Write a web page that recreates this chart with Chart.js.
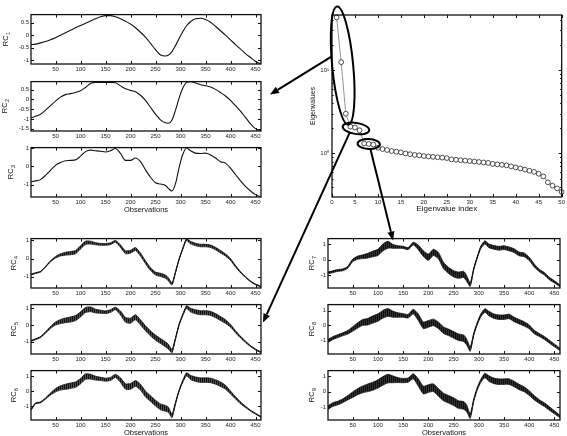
<!DOCTYPE html>
<html>
<head>
<meta charset="utf-8">
<script src="https://cdn.jsdelivr.net/npm/chart.js@4.4.0/dist/chart.umd.min.js"></script>
<style>
  html, body { margin: 0; padding: 0; background: #fff; }
  body { width: 567px; height: 436px; position: relative; overflow: hidden; }
  canvas.panel { position: absolute; }
  #overlay { position: absolute; left: 0; top: 0; pointer-events: none; }
</style>
</head>
<body>
<canvas id="overlay" width="567" height="436"></canvas>
<script>
const OBS = [1, 10, 20, 30, 40, 50, 60, 70, 80, 90,
  100, 110, 120, 130, 140, 150, 160, 170, 180, 190,
  200, 210, 220, 230, 240, 250, 260,
  270, 276, 283, 290, 297, 304, 312, 320,
  330, 340, 350, 360, 370, 380, 390, 400, 410, 420,
  430, 440, 450, 461]
const OBS_TICKS = [50, 100, 150, 200, 250, 300, 350, 400, 450]

const RC1 = [-0.38, -0.36, -0.31, -0.25, -0.18, -0.10, 0.00, 0.10, 0.20, 0.30,
  0.39, 0.48, 0.57, 0.66, 0.74, 0.79, 0.79, 0.74, 0.66, 0.56,
  0.45, 0.30, 0.12, -0.08, -0.33, -0.58, -0.80,
  -0.84, -0.80, -0.66, -0.42, -0.14, 0.12, 0.38, 0.54,
  0.66, 0.68, 0.63, 0.52, 0.36, 0.18, 0.00, -0.19, -0.38, -0.56,
  -0.74, -0.90, -1.06, -1.16]
const RC2 = [-0.95, -0.86, -0.76, -0.55, -0.32, -0.08, 0.12, 0.25, 0.30, 0.36,
  0.45, 0.62, 0.82, 0.88, 0.88, 0.88, 0.88, 0.86, 0.70, 0.55,
  0.47, 0.40, 0.22, -0.05, -0.40, -0.75, -1.05,
  -1.20, -1.22, -1.05, -0.55, 0.05, 0.55, 0.88, 0.92,
  0.85, 0.76, 0.71, 0.64, 0.52, 0.36, 0.18, -0.05, -0.32, -0.60,
  -0.92, -1.25, -1.50, -1.60]
const RC3 = [-0.85, -0.80, -0.73, -0.50, -0.22, 0.05, 0.20, 0.30, 0.32, 0.35,
  0.55, 0.80, 0.88, 0.85, 0.82, 0.78, 0.85, 0.97, 0.70, 0.32,
  0.32, 0.45, 0.25, -0.20, -0.60, -0.90, -0.97,
  -1.05, -1.22, -1.35, -0.95, -0.10, 0.60, 1.00, 0.85,
  0.72, 0.70, 0.72, 0.62, 0.45, 0.25, 0.17, -0.10, -0.45, -0.80,
  -1.10, -1.35, -1.55, -1.67]

// noisy components: centre line and half-width of the oscillation band
const RC4_MID = [-0.88, -0.80, -0.72, -0.45, -0.15, 0.07, 0.20, 0.27, 0.30, 0.35,
  0.62, 0.87, 0.88, 0.82, 0.78, 0.78, 0.82, 0.95, 0.68, 0.35,
  0.38, 0.53, 0.22, -0.20, -0.58, -0.82, -0.90,
  -1.00, -1.15, -1.40, -0.75, -0.05, 0.50, 1.05, 0.88,
  0.78, 0.72, 0.72, 0.68, 0.55, 0.38, 0.20, -0.05, -0.42, -0.75,
  -1.02, -1.25, -1.42, -1.55]
const RC4_BAND = [0.02, 0.02, 0.02, 0.02, 0.03, 0.04, 0.06, 0.08, 0.09, 0.09,
  0.09, 0.09, 0.08, 0.06, 0.05, 0.05, 0.05, 0.05, 0.07, 0.08,
  0.08, 0.08, 0.08, 0.08, 0.08, 0.08, 0.09,
  0.09, 0.08, 0.06, 0.03, 0.03, 0.03, 0.05, 0.07,
  0.07, 0.07, 0.07, 0.07, 0.07, 0.07, 0.06, 0.05, 0.04, 0.03,
  0.02, 0.02, 0.02, 0.02]

const RC5_MID = [-0.95, -0.85, -0.72, -0.45, -0.15, 0.08, 0.20, 0.27, 0.32, 0.40,
  0.62, 0.88, 0.92, 0.82, 0.78, 0.75, 0.82, 0.97, 0.70, 0.30,
  0.25, 0.45, 0.15, -0.20, -0.50, -0.75, -0.95,
  -1.15, -1.30, -1.55, -0.80, 0.00, 0.55, 1.05, 0.88,
  0.78, 0.72, 0.72, 0.68, 0.55, 0.38, 0.20, -0.05, -0.40, -0.72,
  -1.00, -1.25, -1.45, -1.62]
const RC5_BAND = [0.03, 0.03, 0.03, 0.04, 0.06, 0.09, 0.12, 0.14, 0.15, 0.15,
  0.15, 0.15, 0.14, 0.11, 0.09, 0.08, 0.08, 0.08, 0.12, 0.14,
  0.15, 0.15, 0.15, 0.15, 0.15, 0.15, 0.15,
  0.15, 0.14, 0.10, 0.05, 0.04, 0.05, 0.08, 0.11,
  0.12, 0.12, 0.12, 0.12, 0.12, 0.12, 0.11, 0.08, 0.06, 0.05,
  0.04, 0.03, 0.03, 0.03]

const RC6_MID = [-1.25, -0.82, -0.75, -0.50, -0.20, 0.05, 0.20, 0.28, 0.35, 0.42,
  0.65, 0.95, 0.95, 0.85, 0.80, 0.75, 0.80, 1.00, 0.72, 0.30,
  0.30, 0.50, 0.25, -0.20, -0.50, -0.80, -1.05,
  -1.15, -1.25, -1.65, -0.80, 0.00, 0.60, 1.10, 0.90,
  0.78, 0.72, 0.72, 0.70, 0.60, 0.45, 0.25, -0.10, -0.45, -0.78,
  -1.05, -1.30, -1.50, -1.72]
const RC6_BAND = [0.03, 0.03, 0.03, 0.04, 0.07, 0.11, 0.14, 0.17, 0.18, 0.18,
  0.18, 0.18, 0.16, 0.13, 0.11, 0.10, 0.10, 0.10, 0.15, 0.18,
  0.19, 0.19, 0.19, 0.19, 0.19, 0.19, 0.19,
  0.19, 0.17, 0.12, 0.06, 0.05, 0.06, 0.10, 0.14,
  0.15, 0.15, 0.15, 0.15, 0.15, 0.15, 0.13, 0.10, 0.08, 0.06,
  0.04, 0.03, 0.03, 0.03]

const RC7_MID = [-0.85, -0.78, -0.70, -0.66, -0.50, -0.05, 0.12, 0.18, 0.25, 0.36,
  0.46, 0.78, 0.95, 0.84, 0.80, 0.78, 0.70, 1.02, 0.78, 0.38,
  0.15, 0.46, 0.25, -0.38, -0.70, -0.91, -1.00,
  -0.95, -1.22, -1.60, -0.60, 0.15, 0.78, 1.10, 0.88,
  0.78, 0.72, 0.76, 0.68, 0.57, 0.36, 0.30, 0.04, -0.38, -0.70,
  -0.91, -1.22, -1.43, -1.68]
const RC7_BAND = [0.06, 0.06, 0.06, 0.06, 0.06, 0.08, 0.10, 0.12, 0.15, 0.18,
  0.20, 0.22, 0.22, 0.12, 0.08, 0.07, 0.07, 0.08, 0.15, 0.18,
  0.20, 0.20, 0.20, 0.20, 0.20, 0.20, 0.20,
  0.20, 0.18, 0.12, 0.06, 0.06, 0.08, 0.10, 0.12,
  0.12, 0.12, 0.12, 0.12, 0.12, 0.12, 0.12, 0.10, 0.10, 0.08,
  0.08, 0.08, 0.07, 0.06]

const RC8_MID = [-1.05, -0.87, -0.73, -0.60, -0.47, -0.24, 0.00, 0.20, 0.25, 0.40,
  0.53, 0.75, 0.87, 0.75, 0.70, 0.67, 0.62, 0.93, 0.55, 0.00,
  0.10, 0.20, 0.00, -0.33, -0.47, -0.64, -0.80,
  -0.87, -1.13, -1.60, -0.60, 0.13, 0.67, 1.00, 0.80,
  0.62, 0.55, 0.55, 0.60, 0.40, 0.25, 0.10, -0.10, -0.45, -0.65,
  -0.85, -1.10, -1.35, -1.62]
const RC8_BAND = [0.10, 0.10, 0.10, 0.10, 0.12, 0.15, 0.18, 0.20, 0.22, 0.24,
  0.25, 0.26, 0.26, 0.20, 0.15, 0.12, 0.12, 0.15, 0.22, 0.22,
  0.22, 0.22, 0.22, 0.22, 0.22, 0.22, 0.22,
  0.22, 0.20, 0.15, 0.08, 0.08, 0.10, 0.12, 0.15,
  0.15, 0.15, 0.15, 0.15, 0.15, 0.15, 0.15, 0.13, 0.12, 0.10,
  0.10, 0.10, 0.09, 0.08]

const RC9_MID = [-1.05, -0.85, -0.75, -0.60, -0.40, -0.20, 0.00, 0.15, 0.25, 0.35,
  0.50, 0.70, 0.85, 0.80, 0.75, 0.72, 0.75, 1.00, 0.60, 0.10,
  0.20, 0.25, -0.05, -0.35, -0.50, -0.65, -0.85,
  -0.90, -1.10, -1.60, -0.55, 0.20, 0.70, 1.05, 0.85,
  0.70, 0.65, 0.65, 0.65, 0.50, 0.30, 0.15, -0.10, -0.40, -0.65,
  -0.85, -1.10, -1.35, -1.62]
const RC9_BAND = [0.12, 0.12, 0.12, 0.12, 0.14, 0.18, 0.20, 0.22, 0.25, 0.26,
  0.27, 0.28, 0.28, 0.22, 0.16, 0.14, 0.14, 0.16, 0.24, 0.25,
  0.25, 0.25, 0.25, 0.25, 0.25, 0.25, 0.25,
  0.25, 0.22, 0.15, 0.08, 0.08, 0.10, 0.14, 0.18,
  0.18, 0.18, 0.18, 0.18, 0.18, 0.18, 0.16, 0.15, 0.14, 0.12,
  0.12, 0.12, 0.10, 0.08]

const RC_TICKS = [-1, 0, 1]
const RC1_TICKS = [-1, -0.5, 0, 0.5]
const RC2_TICKS = [-1.5, -1, -0.5, 0, 0.5]

// eigenvalue spectrum, index 1..50
const EIGENVALUES = [43, 12.5, 3.0, 2.1, 2.05, 1.9, 1.32, 1.3, 1.28, 1.17,
  1.13, 1.1, 1.07, 1.05, 1.03, 1.0, 0.98, 0.96, 0.95, 0.93,
  0.92, 0.91, 0.9, 0.89, 0.88, 0.85, 0.84, 0.83, 0.82, 0.81,
  0.8, 0.79, 0.78, 0.77, 0.75, 0.74, 0.73, 0.72, 0.7, 0.68,
  0.66, 0.64, 0.62, 0.6, 0.57, 0.53, 0.45, 0.41, 0.38, 0.345]
const EIG_X_TICKS = [0, 5, 10, 15, 20, 25, 30, 35, 40, 45, 50]
const EIG_Y_TICKS = [1, 10]
const EIG_Y_LABELS = ["10\u2070", "10\u00b9"]
const EIG_MINOR = [0.4, 0.5, 0.6, 0.7, 0.8, 0.9, 2, 3, 4, 5, 6, 7, 8, 9, 20, 30, 40]

const FONT = "'Liberation Sans', Arial, Helvetica, sans-serif"
const INK = "#111"
const TICK_FONT = { family: FONT, size: 6 }
const charts = {}

// MATLAB-like box: frame, inward ticks on all four sides, axis labels
const matBox = {
  id: "matBox",
  afterDraw(chart, args, o) {
    const ctx = chart.ctx
    const a = chart.chartArea
    const xs = chart.scales.x
    const ys = chart.scales.y
    ctx.save()
    ctx.strokeStyle = INK
    ctx.lineWidth = 1
    ctx.beginPath()
    xs.ticks.forEach((t) => {
      const p = Math.round(xs.getPixelForValue(t.value)) + 0.5
      ctx.moveTo(p, a.bottom)
      ctx.lineTo(p, a.bottom - 3)
      ctx.moveTo(p, a.top)
      ctx.lineTo(p, a.top + 3)
    })
    ys.ticks.forEach((t) => {
      const p = Math.round(ys.getPixelForValue(t.value)) + 0.5
      ctx.moveTo(a.left, p)
      ctx.lineTo(a.left + 3, p)
      ctx.moveTo(a.right, p)
      ctx.lineTo(a.right - 3, p)
    })
    const minor = o.minorY || []
    minor.forEach((v) => {
      const p = Math.round(ys.getPixelForValue(v)) + 0.5
      ctx.moveTo(a.left, p)
      ctx.lineTo(a.left + 1.6, p)
      ctx.moveTo(a.right, p)
      ctx.lineTo(a.right - 1.6, p)
    })
    ctx.stroke()
    ctx.lineWidth = 1.3
    ctx.strokeRect(a.left, a.top, a.right - a.left, a.bottom - a.top)

    ctx.fillStyle = INK
    if (o.yLabel) {
      ctx.save()
      ctx.translate(a.left + o.labelDx, (a.top + a.bottom) / 2)
      ctx.rotate(-Math.PI / 2)
      const big = `${o.labelSize || 7.5}px ${FONT}`
      const small = `5.5px ${FONT}`
      ctx.font = big
      const w1 = ctx.measureText(o.yLabel).width
      let w2 = 0
      if (o.sub) {
        ctx.font = small
        w2 = ctx.measureText(o.sub).width
      }
      const x0 = -(w1 + w2) / 2
      ctx.textAlign = "left"
      ctx.textBaseline = "alphabetic"
      ctx.font = big
      ctx.fillText(o.yLabel, x0, 2.7)
      if (o.sub) {
        ctx.font = small
        ctx.fillText(o.sub, x0 + w1 + 0.3, 4.8)
      }
      ctx.restore()
    }
    if (o.xTitle) {
      ctx.font = `${o.xTitleSize || 7.5}px ${FONT}`
      ctx.textAlign = "center"
      ctx.textBaseline = "middle"
      ctx.fillText(o.xTitle, (a.left + a.right) / 2, a.bottom + o.xTitleDy)
    }
    ctx.restore()
  },
}
Chart.register(matBox)

function hatch(dark, light) {
  const p = document.createElement("canvas")
  p.width = 2
  p.height = 1
  const g = p.getContext("2d")
  g.fillStyle = dark
  g.fillRect(0, 0, 1, 1)
  g.fillStyle = light
  g.fillRect(1, 0, 1, 1)
  return g.createPattern(p, "repeat")
}

function makeCanvas(left, top, w, h) {
  const cv = document.createElement("canvas")
  cv.className = "panel"
  cv.width = w
  cv.height = h
  cv.style.left = left + "px"
  cv.style.top = top + "px"
  cv.style.width = w + "px"
  cv.style.height = h + "px"
  document.body.insertBefore(cv, document.getElementById("overlay"))
  return cv
}

function points(values) {
  return OBS.map((x, i) => ({ x, y: values[i] }))
}

function smoothSet(values) {
  return [{
    data: points(values),
    borderColor: INK,
    borderWidth: 1.1,
    pointRadius: 0,
    cubicInterpolationMode: "monotone",
  }]
}

function bandSet(mid, band, fillStyle) {
  const upper = OBS.map((x, i) => ({ x, y: mid[i] + band[i] }))
  const lower = OBS.map((x, i) => ({ x, y: mid[i] - band[i] }))
  return [
    { data: upper, borderColor: INK, borderWidth: 0.8, pointRadius: 0, tension: 0.2, fill: "+1", backgroundColor: fillStyle },
    { data: lower, borderColor: INK, borderWidth: 0.8, pointRadius: 0, tension: 0.2, fill: false },
    { data: points(mid), borderColor: INK, borderWidth: 1, pointRadius: 0, tension: 0.2, fill: false },
  ]
}

function rcChart(name, box, p) {
  const padL = 31
  const padT = 5
  const padR = 6
  const xH = p.xTitle ? 22 : 14
  const w = box.r - box.l + padL + padR
  const h = box.b - box.t + padT + xH
  const cv = makeCanvas(box.l - padL, box.t - padT, w, h)
  const chart = new Chart(cv, {
    type: "line",
    data: { datasets: p.datasets },
    options: {
      responsive: false,
      animation: false,
      devicePixelRatio: 1,
      layout: { padding: { left: 0, top: padT, right: padR, bottom: 0 } },
      plugins: {
        legend: { display: false },
        tooltip: { enabled: false },
        matBox: { yLabel: "RC", sub: p.sub, labelDx: p.labelDx, xTitle: p.xTitle, xTitleDy: 12.5 },
      },
      scales: {
        x: {
          type: "linear",
          min: 1,
          max: 461,
          afterFit: (s) => { s.height = xH },
          afterBuildTicks: (s) => { s.ticks = OBS_TICKS.map((v) => ({ value: v })) },
          grid: { display: false, drawTicks: false },
          border: { display: false },
          ticks: { padding: 2, font: TICK_FONT, color: "#222", maxRotation: 0, autoSkip: false, callback: (v) => String(v) },
        },
        y: {
          type: "linear",
          min: p.yMin,
          max: p.yMax,
          afterFit: (s) => { s.width = padL },
          afterBuildTicks: (s) => { s.ticks = p.ticks.map((v) => ({ value: v })) },
          grid: { display: false, drawTicks: false },
          border: { display: false },
          ticks: { padding: 2, font: TICK_FONT, color: "#222", autoSkip: false, callback: (v) => String(v) },
        },
      },
    },
  })
  charts[name] = { chart, left: box.l - padL, top: box.t - padT }
}

function eigenChart(box) {
  const padL = 30
  const padT = 10
  const padR = 4
  const xH = 22
  const w = box.r - box.l + padL + padR
  const h = box.b - box.t + padT + xH
  const cv = makeCanvas(box.l - padL, box.t - padT, w, h)
  const chart = new Chart(cv, {
    type: "line",
    data: {
      datasets: [{
        data: EIGENVALUES.map((v, i) => ({ x: i + 1, y: v })),
        borderColor: "#666",
        borderWidth: 0.7,
        pointRadius: 2.4,
        pointBorderWidth: 0.8,
        pointBorderColor: "#222",
        pointBackgroundColor: "#fff",
        clip: false,
      }],
    },
    options: {
      responsive: false,
      animation: false,
      devicePixelRatio: 1,
      layout: { padding: { left: 0, top: padT, right: padR, bottom: 0 } },
      plugins: {
        legend: { display: false },
        tooltip: { enabled: false },
        matBox: { yLabel: "Eigenvalues", labelSize: 7, labelDx: -20, xTitle: "Eigenvalue index", xTitleSize: 8, xTitleDy: 12, minorY: EIG_MINOR },
      },
      scales: {
        x: {
          type: "linear",
          min: 0,
          max: 50,
          afterFit: (s) => { s.height = xH },
          afterBuildTicks: (s) => { s.ticks = EIG_X_TICKS.map((v) => ({ value: v })) },
          grid: { display: false, drawTicks: false },
          border: { display: false },
          ticks: { padding: 2, font: TICK_FONT, color: "#222", maxRotation: 0, autoSkip: false, callback: (v) => String(v) },
        },
        y: {
          type: "logarithmic",
          min: 0.34,
          max: 46,
          afterFit: (s) => { s.width = padL },
          afterBuildTicks: (s) => { s.ticks = EIG_Y_TICKS.map((v) => ({ value: v })) },
          grid: { display: false, drawTicks: false },
          border: { display: false },
          ticks: { padding: 3, font: TICK_FONT, color: "#222", autoSkip: false, callback: (v, i) => EIG_Y_LABELS[i] },
        },
      },
    },
  })
  charts.eig = { chart, left: box.l - padL, top: box.t - padT }
}

// panel layout (page pixels of each plot box)
const LEFT = { l: 31, r: 261 }
const RIGHT = { l: 328, r: 560 }
const ROWS = [
  { t: 14, b: 64 }, { t: 81, b: 131 }, { t: 147, b: 197 },
  { t: 238, b: 288 }, { t: 304, b: 354 }, { t: 370, b: 420 },
]
const box = (col, row) => ({ l: col.l, r: col.r, t: ROWS[row].t, b: ROWS[row].b })

const HATCH = hatch("#111", "#4d4d4d")
const HATCH_DARK = hatch("#0d0d0d", "#333")

rcChart("rc1", box(LEFT, 0), { sub: "1", labelDx: -26, yMin: -1.16, yMax: 0.83, ticks: RC1_TICKS, datasets: smoothSet(RC1) })
rcChart("rc2", box(LEFT, 1), { sub: "2", labelDx: -26.5, yMin: -1.62, yMax: 0.92, ticks: RC2_TICKS, datasets: smoothSet(RC2) })
rcChart("rc3", box(LEFT, 2), { sub: "3", labelDx: -21, yMin: -1.68, yMax: 1.02, ticks: RC_TICKS, datasets: smoothSet(RC3), xTitle: "Observations" })
rcChart("rc4", box(LEFT, 3), { sub: "4", labelDx: -17.5, yMin: -1.62, yMax: 1.1, ticks: RC_TICKS, datasets: bandSet(RC4_MID, RC4_BAND, HATCH) })
rcChart("rc5", box(LEFT, 4), { sub: "5", labelDx: -17.5, yMin: -1.72, yMax: 1.2, ticks: RC_TICKS, datasets: bandSet(RC5_MID, RC5_BAND, HATCH) })
rcChart("rc6", box(LEFT, 5), { sub: "6", labelDx: -17.5, yMin: -1.92, yMax: 1.35, ticks: RC_TICKS, datasets: bandSet(RC6_MID, RC6_BAND, HATCH), xTitle: "Observations" })
rcChart("rc7", box(RIGHT, 3), { sub: "7", labelDx: -16.5, yMin: -1.82, yMax: 1.34, ticks: RC_TICKS, datasets: bandSet(RC7_MID, RC7_BAND, HATCH_DARK) })
rcChart("rc8", box(RIGHT, 4), { sub: "8", labelDx: -16.5, yMin: -1.93, yMax: 1.4, ticks: RC_TICKS, datasets: bandSet(RC8_MID, RC8_BAND, HATCH_DARK) })
rcChart("rc9", box(RIGHT, 5), { sub: "9", labelDx: -16.5, yMin: -1.85, yMax: 1.37, ticks: RC_TICKS, datasets: bandSet(RC9_MID, RC9_BAND, HATCH_DARK), xTitle: "Observations" })
eigenChart({ l: 332, r: 563, t: 15, b: 197 })

// ---- overlay: rings round groups of eigenvalues and arrows to their components ----
function pagePt(name, x, y) {
  const c = charts[name]
  return { x: c.left + c.chart.scales.x.getPixelForValue(x), y: c.top + c.chart.scales.y.getPixelForValue(y) }
}

function areaOf(name) {
  const c = charts[name]
  const a = c.chart.chartArea
  return { l: c.left + a.left, r: c.left + a.right, t: c.top + a.top, b: c.top + a.bottom }
}

function ring(from, to, extend, half, dx, tilt) {
  const p = pagePt("eig", from + 1, EIGENVALUES[from])
  const q = pagePt("eig", to + 1, EIGENVALUES[to])
  const ang = Math.atan2(q.y - p.y, q.x - p.x)
  return {
    cx: (p.x + q.x) / 2 + dx,
    cy: (p.y + q.y) / 2,
    a: Math.hypot(q.x - p.x, q.y - p.y) / 2 + extend,
    b: half,
    ang: ang * tilt,
  }
}

function ringPt(e, t) {
  const lx = e.a * Math.cos(t)
  const ly = e.b * Math.sin(t)
  return {
    x: e.cx + lx * Math.cos(e.ang) - ly * Math.sin(e.ang),
    y: e.cy + lx * Math.sin(e.ang) + ly * Math.cos(e.ang),
  }
}

function drawArrow(ctx, s, tip) {
  const ang = Math.atan2(tip.y - s.y, tip.x - s.x)
  const len = 9
  const hw = 3.6
  const bx = tip.x - len * Math.cos(ang)
  const by = tip.y - len * Math.sin(ang)
  ctx.beginPath()
  ctx.moveTo(s.x, s.y)
  ctx.lineTo(bx, by)
  ctx.stroke()
  ctx.beginPath()
  ctx.moveTo(tip.x, tip.y)
  ctx.lineTo(bx + hw * Math.sin(ang), by - hw * Math.cos(ang))
  ctx.lineTo(bx - hw * Math.sin(ang), by + hw * Math.cos(ang))
  ctx.closePath()
  ctx.fill()
}

function drawOverlay() {
  const ctx = document.getElementById("overlay").getContext("2d")
  ctx.strokeStyle = "#000"
  ctx.fillStyle = "#000"
  ctx.lineWidth = 2

  const big = ring(0, 2, 11, 10.5, 1.5, 1)
  const mid = ring(3, 5, 8.5, 5.5, 1, 0.4)
  const small = ring(6, 8, 6.5, 5, 0, 0.4)
  const rings = [big, mid, small]
  rings.forEach((e) => {
    ctx.beginPath()
    ctx.ellipse(e.cx, e.cy, e.a, e.b, e.ang, 0, Math.PI * 2)
    ctx.stroke()
  })

  const rc2 = areaOf("rc2")
  const rc5 = areaOf("rc5")
  const rc7 = areaOf("rc7")
  drawArrow(ctx, ringPt(big, 1.74), { x: rc2.r + 9, y: rc2.t + 13 })
  drawArrow(ctx, ringPt(mid, 2.0), { x: rc5.r + 2, y: rc5.t + 18 })
  drawArrow(ctx, ringPt(small, 1.4), { x: pagePt("rc7", 130, 0).x, y: rc7.t + 2 })
}

drawOverlay()
</script>
</body>
</html>
